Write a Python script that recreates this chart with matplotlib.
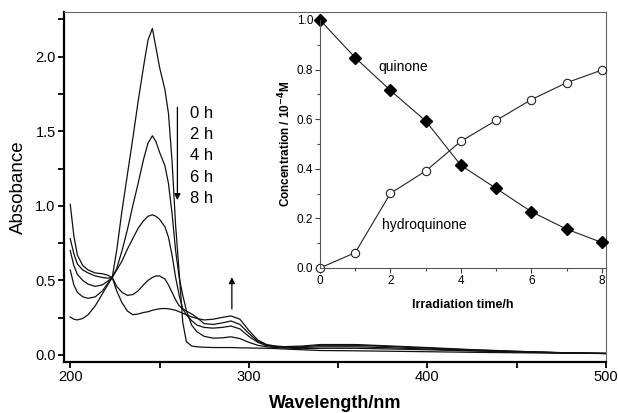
import matplotlib
matplotlib.use("Agg")
import matplotlib.pyplot as plt
from matplotlib.ticker import MultipleLocator

plt.rcParams["font.family"] = ["Liberation Sans", "DejaVu Sans"]

# Spectra (absorbance vs wavelength) at each irradiation time
wavelength = [200, 202, 204, 207, 210, 214, 218, 221, 223.5, 226, 229, 232, 235, 238, 241,
              243.5, 246, 248, 250, 253, 255, 257, 259, 261, 263, 265, 268, 271, 275, 280,
              285, 290, 295, 300, 305, 310, 315, 320, 330, 340, 360, 380, 400, 425, 450,
              475, 500]
abs_0h = [1.01, 0.80, 0.67, 0.60, 0.57, 0.55, 0.545, 0.535, 0.52, 0.70, 0.97, 1.21, 1.45, 1.70, 1.93,
          2.11, 2.19, 2.06, 1.93, 1.78, 1.62, 1.30, 0.87, 0.55, 0.22, 0.09, 0.06, 0.055, 0.052, 0.05,
          0.05, 0.05, 0.048, 0.047, 0.046, 0.045, 0.043, 0.04, 0.035, 0.03, 0.028, 0.025, 0.022, 0.018, 0.015,
          0.012, 0.01]
abs_2h = [0.78, 0.68, 0.61, 0.57, 0.55, 0.53, 0.52, 0.515, 0.52, 0.58, 0.70, 0.84, 1.00, 1.15, 1.31,
          1.42, 1.47, 1.43, 1.36, 1.27, 1.15, 0.95, 0.70, 0.52, 0.40, 0.30, 0.20, 0.155, 0.125, 0.113,
          0.115, 0.122, 0.11, 0.085, 0.065, 0.055, 0.05, 0.047, 0.042, 0.045, 0.045, 0.04, 0.035, 0.027, 0.02,
          0.014, 0.01]
abs_4h = [0.70, 0.60, 0.54, 0.50, 0.475, 0.46, 0.47, 0.495, 0.52, 0.57, 0.63, 0.71, 0.78, 0.85, 0.90,
          0.93, 0.94, 0.93, 0.91, 0.86, 0.79, 0.67, 0.52, 0.40, 0.31, 0.27, 0.23, 0.20, 0.185, 0.18,
          0.185, 0.194, 0.175, 0.125, 0.085, 0.062, 0.055, 0.05, 0.05, 0.055, 0.055, 0.048, 0.04, 0.03, 0.022,
          0.015, 0.01]
abs_6h = [0.57, 0.47, 0.42, 0.39, 0.38, 0.39, 0.43, 0.48, 0.52, 0.46, 0.42, 0.40, 0.405, 0.43, 0.47,
          0.50, 0.52, 0.53, 0.53, 0.51, 0.47, 0.42, 0.37, 0.33, 0.31, 0.295, 0.275, 0.25, 0.21, 0.205,
          0.215, 0.228, 0.205, 0.145, 0.092, 0.066, 0.058, 0.053, 0.055, 0.065, 0.065, 0.056, 0.046, 0.034, 0.024,
          0.015, 0.01]
abs_8h = [0.255, 0.24, 0.235, 0.245, 0.27, 0.33, 0.41, 0.47, 0.52, 0.43, 0.35, 0.295, 0.27, 0.275, 0.285,
          0.29, 0.30, 0.305, 0.31, 0.312, 0.31, 0.305, 0.30, 0.29, 0.28, 0.27, 0.255, 0.245, 0.235, 0.24,
          0.252, 0.262, 0.24, 0.165, 0.10, 0.07, 0.06, 0.056, 0.06, 0.07, 0.07, 0.06, 0.05, 0.036, 0.025,
          0.016, 0.011]
time_labels = ["0 h", "2 h", "4 h", "6 h", "8 h"]

# Inset: concentration vs irradiation time
irr_time = [0, 1, 2, 3, 4, 5, 6, 7, 8]
quinone = [1.0, 0.848, 0.716, 0.593, 0.414, 0.321, 0.227, 0.157, 0.103]
hydroquinone = [0.0, 0.062, 0.301, 0.391, 0.511, 0.595, 0.679, 0.747, 0.798]

W, H = 618, 413
fig = plt.figure(figsize=(W / 100, H / 100), dpi=100)

# Main axes
ax = fig.add_axes([64 / W, 1 - 362 / H, (606 - 64) / W, (362 - 12) / H])
for y in [abs_0h, abs_2h, abs_4h, abs_6h, abs_8h]:
    ax.plot(wavelength, y, color="#111111", lw=0.9)
ax.set_xlim(196.5, 500)
ax.set_ylim(-0.047, 2.3)
ax.xaxis.set_major_locator(MultipleLocator(100))
ax.xaxis.set_minor_locator(MultipleLocator(50))
ax.yaxis.set_major_locator(MultipleLocator(0.5))
ax.yaxis.set_minor_locator(MultipleLocator(0.25))
ax.yaxis.set_major_formatter(plt.FormatStrFormatter("%.1f"))
ax.tick_params(which="both", direction="out", length=4, width=1.3, labelsize=10.5, pad=2)
for s in ["left", "bottom"]:
    ax.spines[s].set_linewidth(1.6)
for s in ["top", "right"]:
    ax.spines[s].set_linewidth(0.8)
    ax.spines[s].set_color("#666666")
ax.set_xlabel("Wavelength/nm", fontsize=13, fontweight="bold", labelpad=8)
ax.set_ylabel("Absobance", fontsize=13.5, labelpad=6)

# Time labels and arrows
label_y = [1.62, 1.48, 1.34, 1.19, 1.05]
for lab, yy in zip(time_labels, label_y):
    ax.text(267, yy, lab, fontsize=12, va="center", ha="left")
ax.annotate("", xy=(260, 1.02), xytext=(260, 1.68),
            arrowprops=dict(arrowstyle="-|>", color="black", lw=0.9, mutation_scale=9))
ax.annotate("", xy=(290.5, 0.54), xytext=(290.5, 0.29),
            arrowprops=dict(arrowstyle="-|>", color="black", lw=0.9, mutation_scale=9))

# Inset axes
ins = fig.add_axes([320 / W, 1 - 268 / H, (606 - 320) / W, (268 - 20) / H])
ins.patch.set_alpha(0)
ins.plot(irr_time, quinone, color="#222222", lw=0.8, marker="D", ms=6,
         mfc="black", mec="black", clip_on=False)
ins.plot(irr_time, hydroquinone, color="#222222", lw=0.8, marker="o", ms=6,
         mfc="white", mec="#222222", mew=0.8, clip_on=False)
ins.set_xlim(0, 8.12)
ins.set_ylim(0, 1.0)
ins.xaxis.set_major_locator(MultipleLocator(2))
ins.xaxis.set_minor_locator(MultipleLocator(1))
ins.yaxis.set_major_locator(MultipleLocator(0.2))
ins.yaxis.set_minor_locator(MultipleLocator(0.1))
ins.yaxis.set_major_formatter(plt.FormatStrFormatter("%.1f"))
ins.tick_params(which="major", direction="out", length=3.5, width=0.8, labelsize=8.5,
                pad=1.5, color="#444444")
ins.tick_params(which="minor", direction="out", length=2, width=0.8, color="#444444")
for s in ["top", "right"]:
    ins.spines[s].set_visible(False)
for s in ["left", "bottom"]:
    ins.spines[s].set_linewidth(0.8)
    ins.spines[s].set_color("#555555")
ins.set_xlabel("Irradiation time/h", fontsize=9, fontweight="bold", labelpad=9)
ins.set_ylabel("Concentration / 10$^{\\mathbf{-4}}$M", fontsize=8.5, fontweight="bold", labelpad=2)
ins.text(1.65, 0.81, "quinone", fontsize=10, va="center")
ins.text(1.75, 0.175, "hydroquinone", fontsize=10, va="center")

fig.savefig("out.png", dpi=100)
